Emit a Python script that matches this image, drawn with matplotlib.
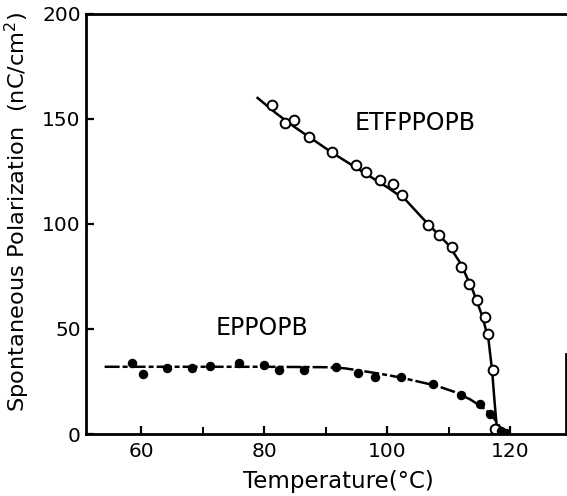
import matplotlib
matplotlib.use('Agg')
import matplotlib.pyplot as plt

# ETFPPOPB measured points (open circles)
etf_T = [81.2, 83.3, 84.9, 87.2, 91.1, 94.9, 96.6, 98.8, 100.9, 102.5,
         106.7, 108.4, 110.6, 112.1, 113.4, 114.6, 116.0, 116.5, 117.2, 117.5]
etf_P = [156.5, 148.0, 149.5, 141.3, 134.1, 128.0, 124.6, 120.8, 118.8, 114.0,
         99.3, 94.5, 88.8, 79.7, 71.6, 64.0, 55.8, 47.7, 30.5, 2.4]

# EPPOPB measured points (filled circles)
epp_T = [58.5, 60.3, 64.2, 68.3, 71.2, 75.8, 79.9, 82.4, 86.4, 91.6,
         95.2, 98.1, 102.2, 107.4, 112.0, 115.2, 116.8, 118.6, 119.3]
epp_P = [33.9, 28.6, 31.5, 31.5, 32.5, 33.9, 32.9, 30.5, 30.5, 32.0,
         29.1, 27.2, 27.2, 23.9, 18.6, 14.3, 9.5, 1.4, 0.5]

# hand-drawn guide curves through the points
etf_curve_T = [78.9, 82, 85, 88, 91, 94, 97, 100, 103, 106, 108, 110,
               112, 114, 115.5, 116.5, 117.1, 117.5, 117.8, 118.1]
etf_curve_P = [160, 152.5, 146, 140, 134, 128.5, 123, 117.5, 111.5, 102, 96, 90,
               81, 68, 56, 45, 30, 15, 5, 0]
epp_curve_T = [54, 60, 70, 80, 90, 93, 96, 99, 102, 105, 108, 111,
               113.5, 115.5, 117, 118, 118.8, 119.3]
epp_curve_P = [32, 32, 32, 32, 31.8, 31.3, 30, 28.6, 27, 25, 23, 20,
               16.5, 12.8, 9, 5, 1.5, 0]

plt.rcParams['font.family'] = 'DejaVu Sans'

fig = plt.figure(figsize=(5.67, 4.96), dpi=100)
ax = fig.add_axes([0.152, 0.125, 0.846, 0.847])

ax.plot(etf_curve_T, etf_curve_P, color='black', lw=1.8)
ax.plot(epp_curve_T, epp_curve_P, color='black', lw=1.8,
        linestyle=(0, (6, 1.2, 2, 1.2)))
ax.plot(etf_T, etf_P, 'o', ms=7, mfc='white', mec='black', mew=1.4)
ax.plot(epp_T, epp_P, 'o', ms=5.8, mfc='black', mec='black')

ax.text(104.5, 148, 'ETFPPOPB', fontsize=17, ha='center', va='center')
ax.text(79.7, 50.6, 'EPPOPB', fontsize=17, ha='center', va='center')

ax.set_xlim(51.0, 129.1)
ax.set_ylim(0, 200)
ax.set_xticks([60, 80, 100, 120])
ax.set_xticks([70, 90, 110], minor=True)
ax.set_yticks([0, 50, 100, 150, 200])
ax.tick_params(axis='both', which='major', direction='in', length=6, width=1.6,
               labelsize=14.5)
ax.tick_params(axis='x', which='minor', direction='in', length=5, width=1.4)
ax.tick_params(axis='x', pad=6)
ax.tick_params(axis='y', pad=4)

for side in ['left', 'bottom', 'top', 'right']:
    ax.spines[side].set_linewidth(2.0)
ax.spines['right'].set_bounds(0, 38)

ax.set_xlabel('Temperature(°C)', fontsize=16.5)
ax.set_ylabel('Spontaneous Polarization  (nC/cm$^2$)', fontsize=16.2)
ax.xaxis.set_label_coords(0.525, -0.085)
ax.yaxis.set_label_coords(-0.112, 0.53)

plt.savefig('out.png', dpi=100)
